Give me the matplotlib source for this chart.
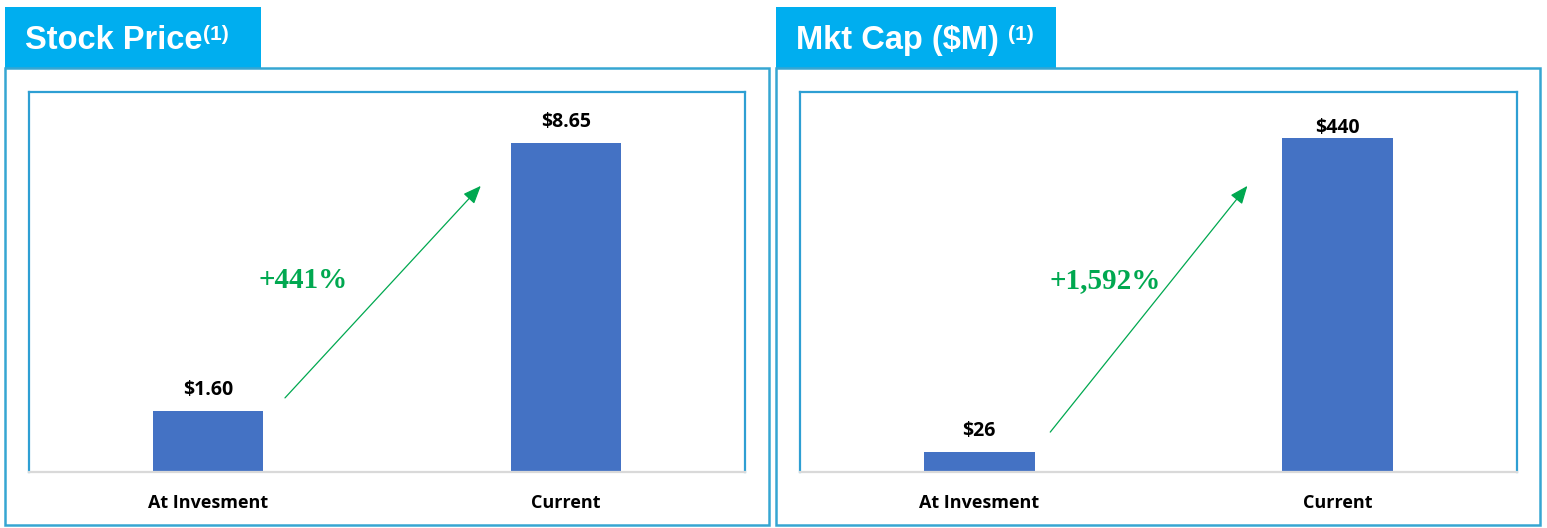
import matplotlib
matplotlib.use("Agg")
import matplotlib.pyplot as plt
from matplotlib.patches import Rectangle

# ---- data ----
categories = ["At Invesment", "Current"]
stock_price = [1.60, 8.65]
stock_labels = ["$1.60", "$8.65"]
mkt_cap = [26, 440]
mkt_labels = ["$26", "$440"]
titles = ["Stock Price", "Mkt Cap ($M) "]
title_sup = "(1)"
pct_labels = ["+441%", "+1,592%"]
ylims = [10, 500]

W, H = 1547, 528
fig = plt.figure(figsize=(W / 100, H / 100), dpi=100)
fig.patch.set_facecolor("white")

TAB = "#00AEEF"
OUTER = "#36A6D2"
INNER = "#2E9FD3"
BAR = "#4472C4"
GREEN = "#00A850"
LABEL_FONT = "Open Sans"


def px_rect(x0, y0, x1, y1):
    """pixel box (top-left origin) -> figure fraction [l, b, w, h]"""
    return [x0 / W, 1 - y1 / H, (x1 - x0) / W, (y1 - y0) / H]


panels = [
    dict(tab=(5, 7, 261, 68), outer=(5, 68, 769, 525), inner=(29, 92, 745, 472),
         values=stock_price, labels=stock_labels, title=titles[0], pct=pct_labels[0],
         ylim=ylims[0], arrow=((0.3575, 0.195), (0.631, 0.753)),
         pct_pos=(0.383, 0.503), label_off=[21, 21]),
    dict(tab=(776, 7, 1056, 68), outer=(776, 68, 1540, 525), inner=(800, 92, 1517, 472),
         values=mkt_cap, labels=mkt_labels, title=titles[1], pct=pct_labels[1],
         ylim=ylims[1], arrow=((0.349, 0.105), (0.624, 0.753)),
         pct_pos=(0.425, 0.503), label_off=[21, 10]),
]

renderer = fig.canvas.get_renderer()

for p in panels:
    # tab
    l, b, w, h = px_rect(*p["tab"])
    fig.patches.append(Rectangle((l, b), w, h, transform=fig.transFigure,
                                 facecolor=TAB, edgecolor="none", zorder=0))
    # outer box
    l, b, w, h = px_rect(*p["outer"])
    fig.patches.append(Rectangle((l, b), w, h, transform=fig.transFigure,
                                 facecolor="none", edgecolor=OUTER, linewidth=1.8, zorder=1))
    # title text
    tx = (p["tab"][0] + 20) / W
    ty = 1 - 49 / H
    t = fig.text(tx, ty, p["title"], color="white", fontsize=23.5, fontweight="bold",
                 family="Liberation Sans", ha="left", va="baseline")
    bb = t.get_window_extent(renderer=renderer)
    fig.text(bb.x1 / W + 0.0003, 1 - 40 / H, title_sup, color="white", fontsize=15,
             fontweight="bold", family="Liberation Sans", ha="left", va="baseline")

    # plot axes
    ax = fig.add_axes(px_rect(*p["inner"]))
    x = range(len(categories))
    bars = ax.bar(x, p["values"], width=0.31, color=BAR, zorder=2)
    ax.set_xlim(-0.5, 1.5)
    ax.set_ylim(0, p["ylim"])
    ax.set_yticks([])
    ax.set_xticks(list(x))
    ax.set_xticklabels(categories, fontsize=13, fontweight="bold", family=LABEL_FONT)
    ax.tick_params(axis="x", length=0, pad=15.5)
    for s in ["top", "left", "right"]:
        ax.spines[s].set_color(INNER)
        ax.spines[s].set_linewidth(1.6)
    ax.spines["bottom"].set_color("#D9D9D9")
    ax.spines["bottom"].set_linewidth(1.6)

    for rect, lab, off in zip(bars, p["labels"], p["label_off"]):
        ax.annotate(lab, (rect.get_x() + rect.get_width() / 2, rect.get_height()),
                    xytext=(0, off), textcoords="offset pixels", ha="center", va="center",
                    fontsize=14, fontweight="bold", family=LABEL_FONT, color="black")

    (sx, sy), (ex, ey) = p["arrow"]
    ax.annotate("", xy=(ex, ey), xytext=(sx, sy), xycoords="axes fraction",
                textcoords="axes fraction",
                arrowprops=dict(arrowstyle="-|>,head_length=1.1,head_width=0.45",
                                color=GREEN, linewidth=0.9, shrinkA=0, shrinkB=0))
    ax.text(p["pct_pos"][0], p["pct_pos"][1], p["pct"], transform=ax.transAxes,
            ha="center", va="center", fontsize=21, fontweight="bold",
            family="Liberation Serif", color=GREEN)

fig.savefig("out.png", dpi=100, facecolor="white")
